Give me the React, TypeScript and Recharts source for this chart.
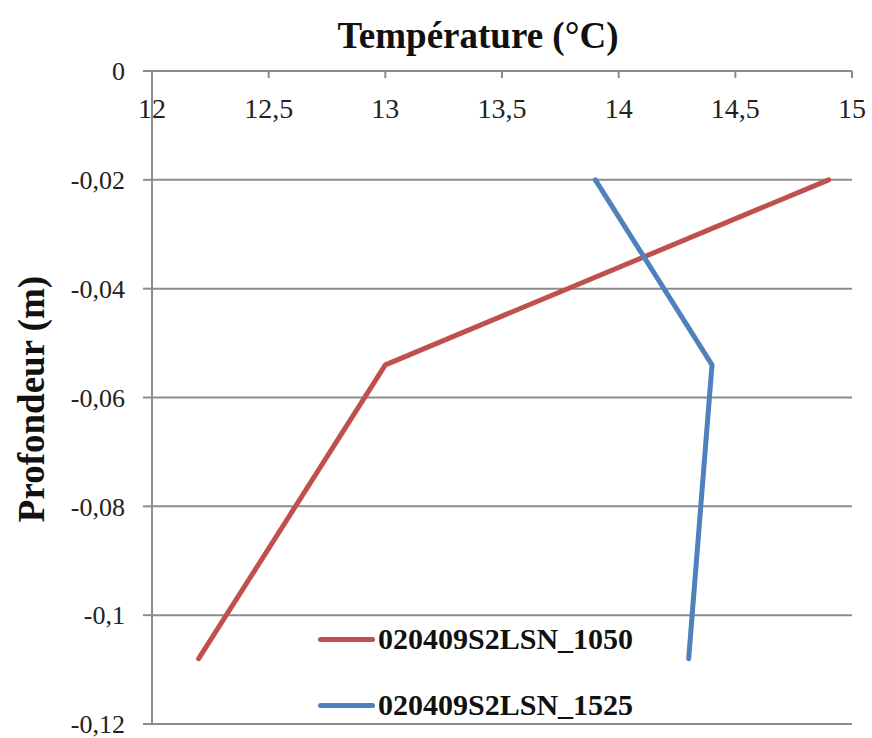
import { LineChart, Line, XAxis, YAxis, CartesianGrid, Legend } from "recharts";

const depths = [-0.02, -0.054, -0.108];
const temp1050 = [14.9, 13.0, 12.2];
const temp1525 = [13.9, 14.4, 14.3];
const xTicks = [12, 12.5, 13, 13.5, 14, 14.5, 15];
const yTicks = [0, -0.02, -0.04, -0.06, -0.08, -0.1, -0.12];

const series = [
  { name: "020409S2LSN_1050", color: "#C0504D", data: depths.map((d, i) => ({ t: temp1050[i], d })) },
  { name: "020409S2LSN_1525", color: "#4F81BD", data: depths.map((d, i) => ({ t: temp1525[i], d })) },
];

const serif = "Liberation Serif, Times New Roman, Tinos, DejaVu Serif, Noto Serif, serif";
const gridColor = "#8c8c8c";
const comma = (v: number) => String(v).replace(".", ",");

function LegendBox() {
  return (
    <div style={{ fontFamily: serif, fontWeight: "bold", fontSize: 30, color: "#111" }}>
      {series.map((s, i) => (
        <div key={s.name} style={{ display: "flex", alignItems: "center", height: 44, marginBottom: i === 0 ? 22 : 0 }}>
          <span style={{ display: "inline-block", width: 57, height: 5, borderRadius: 3, background: s.color, marginRight: 3 }} />
          <span>{s.name}</span>
        </div>
      ))}
    </div>
  );
}

export default function App() {
  return (
    <div style={{ position: "absolute", left: 0, top: 0, width: 872, height: 738, background: "#fff" }}>
      <LineChart width={872} height={738} margin={{ top: 71, right: 20, bottom: 14, left: 72 }}>
        <CartesianGrid vertical={false} stroke={gridColor} strokeWidth={2} />
        <XAxis
          type="number"
          dataKey="t"
          orientation="top"
          mirror
          domain={[12, 15]}
          ticks={xTicks}
          tickFormatter={comma}
          tickSize={7}
          tickMargin={20}
          interval={0}
          stroke={gridColor}
          strokeWidth={2}
          tick={{ fontFamily: serif, fontSize: 28, fill: "#222" }}
          allowDataOverflow
        />
        <YAxis
          type="number"
          dataKey="d"
          domain={[-0.12, 0]}
          ticks={yTicks}
          tickFormatter={comma}
          width={80}
          tickSize={9}
          tickMargin={18}
          interval={0}
          stroke={gridColor}
          strokeWidth={2}
          tick={{ fontFamily: serif, fontSize: 26, fill: "#222" }}
        />
        {series.map((s) => (
          <Line
            key={s.name}
            data={s.data}
            dataKey="d"
            name={s.name}
            stroke={s.color}
            strokeWidth={5}
            strokeLinecap="round"
            strokeLinejoin="round"
            dot={false}
            activeDot={false}
            isAnimationActive={false}
          />
        ))}
        <Legend
          layout="vertical"
          align="center"
          verticalAlign="middle"
          content={() => <LegendBox />}
          wrapperStyle={{ position: "absolute", left: 318, top: 617, width: 360 }}
        />
      </LineChart>
      <div
        style={{
          position: "absolute",
          left: 478,
          top: 35,
          transform: "translate(-50%, -50%)",
          fontFamily: serif,
          fontWeight: "bold",
          fontSize: 37,
          whiteSpace: "nowrap",
          color: "#111",
        }}
      >
        Température (°C)
      </div>
      <div
        style={{
          position: "absolute",
          left: 31,
          top: 399,
          transform: "translate(-50%, -50%) rotate(-90deg)",
          fontFamily: serif,
          fontWeight: "bold",
          fontSize: 37,
          whiteSpace: "nowrap",
          color: "#111",
        }}
      >
        Profondeur (m)
      </div>
    </div>
  );
}
